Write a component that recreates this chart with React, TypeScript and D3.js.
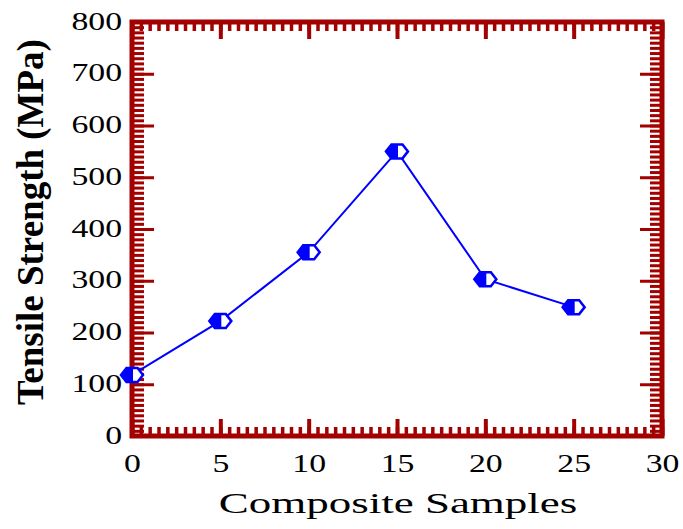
import React, { useEffect, useRef } from "react";
import * as d3 from "d3";

// composite samples (x) and tensile strength in MPa (y)
const samples = [0, 5, 10, 15, 20, 25];
const strength = [118, 222, 355, 550, 303, 249];
const xMajorTicks = [0, 5, 10, 15, 20, 25, 30];
const yMajorTicks = [0, 100, 200, 300, 400, 500, 600, 700, 800];

const FRAME = "#a30000";
const LINE = "#0000ff";

export default function App() {
  const ref = useRef<SVGSVGElement>(null);

  useEffect(() => {
    const svg = d3.select(ref.current);
    svg.selectAll("*").remove();

    const left = 132, right = 662, top = 22, bottom = 436;
    const x = d3.scaleLinear().domain([0, 30]).range([left, right]);
    const y = d3.scaleLinear().domain([0, 800]).range([bottom, top]);

    const xMinor = d3.range(0, 30.01, 0.5);
    const yMinor = d3.range(0, 800.1, 10);

    const styleAxis = (g: any, w: number) => {
      g.select(".domain").remove();
      g.selectAll("line").attr("stroke", FRAME).attr("stroke-width", w);
    };

    // minor ticks
    svg.append("g").attr("transform", `translate(0,${bottom})`)
      .call(d3.axisBottom(x).tickValues(xMinor).tickSize(-9).tickFormat(() => ""))
      .call((g) => styleAxis(g, 3.5));
    svg.append("g").attr("transform", `translate(0,${top})`)
      .call(d3.axisTop(x).tickValues(xMinor).tickSize(-9).tickFormat(() => ""))
      .call((g) => styleAxis(g, 3.5));
    svg.append("g").attr("transform", `translate(${left},0)`)
      .call(d3.axisLeft(y).tickValues(yMinor).tickSize(-12).tickFormat(() => ""))
      .call((g) => styleAxis(g, 3));
    svg.append("g").attr("transform", `translate(${right},0)`)
      .call(d3.axisRight(y).tickValues(yMinor).tickSize(-12).tickFormat(() => ""))
      .call((g) => styleAxis(g, 3));

    // major ticks with labels (the source text is stretched sideways)
    const font = "'Liberation Serif', 'Times New Roman', serif";
    const sx = 1.35;
    svg.append("g").attr("transform", `translate(0,${bottom})`)
      .call(d3.axisBottom(x).tickValues(xMajorTicks).tickSize(-17).tickFormat(d3.format("d")))
      .call((g) => {
        styleAxis(g, 4);
        g.selectAll("text")
          .attr("fill", "#000").attr("y", 36).attr("dy", null)
          .attr("transform", `scale(${sx},1)`)
          .style("font-family", font).style("font-size", "25px");
      });
    svg.append("g").attr("transform", `translate(0,${top})`)
      .call(d3.axisTop(x).tickValues(xMajorTicks).tickSize(-17).tickFormat(() => ""))
      .call((g) => styleAxis(g, 4));
    svg.append("g").attr("transform", `translate(${left},0)`)
      .call(d3.axisLeft(y).tickValues(yMajorTicks).tickSize(-22).tickFormat(d3.format("d")))
      .call((g) => {
        styleAxis(g, 3);
        g.selectAll("text")
          .attr("fill", "#000").attr("x", -10 / sx).attr("dy", 7)
          .attr("transform", `scale(${sx},1)`)
          .style("font-family", font).style("font-size", "25px");
      });
    svg.append("g").attr("transform", `translate(${right},0)`)
      .call(d3.axisRight(y).tickValues(yMajorTicks).tickSize(-22).tickFormat(() => ""))
      .call((g) => styleAxis(g, 3));

    // frame
    svg.append("rect")
      .attr("x", left).attr("y", top)
      .attr("width", right - left).attr("height", bottom - top)
      .attr("fill", "none").attr("stroke", FRAME).attr("stroke-width", 5);

    // data line
    const data = samples.map((s, i) => ({ s, v: strength[i] }));
    svg.append("path")
      .datum(data)
      .attr("fill", "none")
      .attr("stroke", LINE)
      .attr("stroke-width", 2)
      .attr("d", d3.line<any>().x((d) => x(d.s)).y((d) => y(d.v)));

    // half-filled hexagon markers
    const hw = 11, hh = 7;
    const hex = `M${-hw},0 L${-hw / 2},${-hh} L${hw / 2},${-hh} L${hw},0 L${hw / 2},${hh} L${-hw / 2},${hh} Z`;
    const leftHalf = `M${-hw},0 L${-hw / 2},${-hh} L1,${-hh} L1,${hh} L${-hw / 2},${hh} Z`;
    const m = svg.selectAll("g.marker").data(data).enter().append("g")
      .attr("class", "marker")
      .attr("transform", (d) => `translate(${x(d.s)},${y(d.v)})`);
    m.append("path").attr("d", hex).attr("fill", "#fff").attr("stroke", LINE).attr("stroke-width", 2.5);
    m.append("path").attr("d", leftHalf).attr("fill", LINE);

    // axis titles
    svg.append("text")
      .attr("transform", "translate(398,513) scale(1.5,1)")
      .attr("text-anchor", "middle")
      .style("font-family", font).style("font-size", "30px")
      .text("Composite Samples");
    svg.append("text")
      .attr("transform", "translate(43,222) rotate(-90)")
      .attr("text-anchor", "middle")
      .style("font-family", font).style("font-size", "37px").style("font-weight", "bold")
      .text("Tensile Strength (MPa)");
  }, []);

  return (
    <svg ref={ref} width={683} height={529}
      style={{ position: "absolute", left: 0, top: 0, background: "#fff" }} />
  );
}
